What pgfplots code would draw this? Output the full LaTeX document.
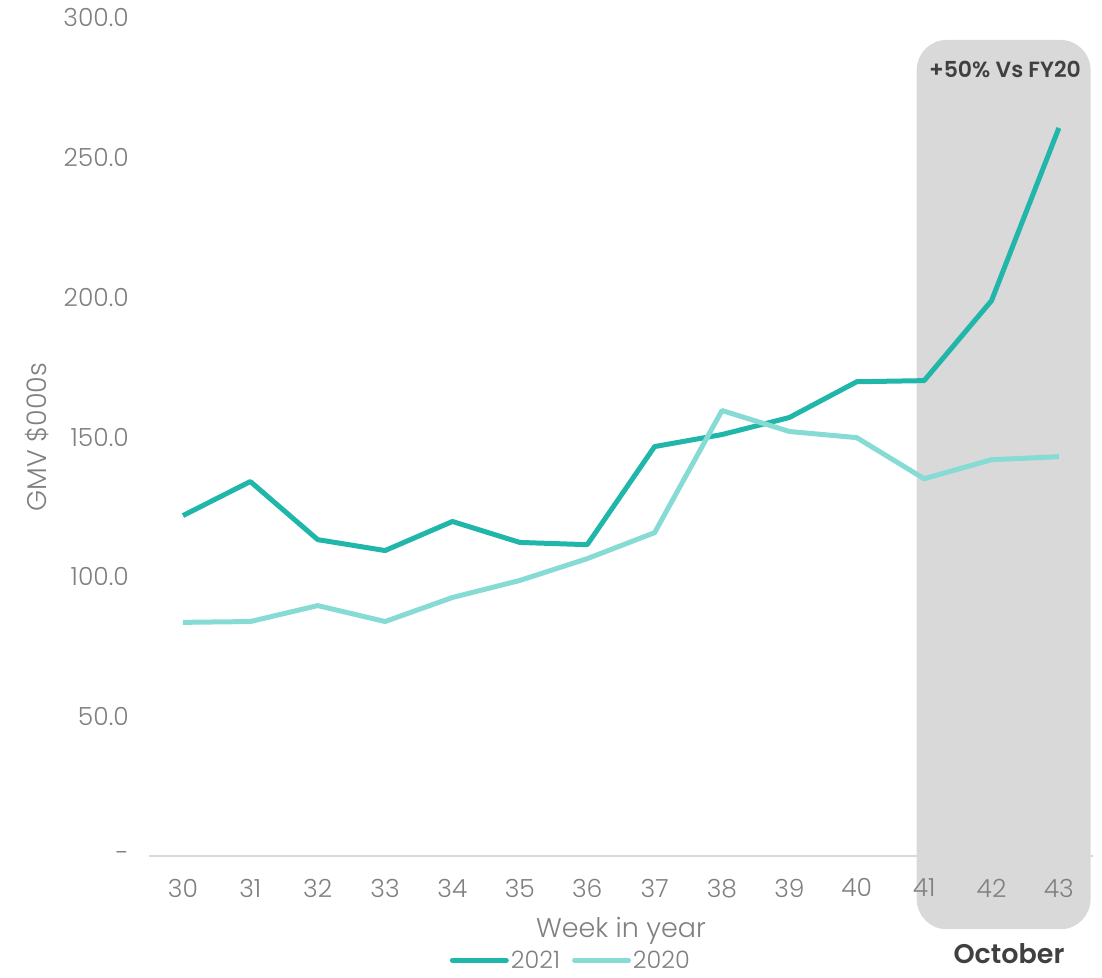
\documentclass[border=0pt]{standalone}
\usepackage{fontspec}
\setmainfont{Poppins Light}[BoldFont={Poppins SemiBold}]
\usepackage{pgfplots}
\pgfplotsset{compat=1.18}
\definecolor{c21}{HTML}{21B6AA}
\definecolor{c20}{HTML}{86DCD4}
\definecolor{tickgray}{HTML}{808080}
\definecolor{boxgray}{HTML}{D9D9D9}
\definecolor{darktxt}{HTML}{404040}
\begin{document}
\begin{tikzpicture}
\begin{axis}[
  set layers,
  scale only axis,
  width=944pt, height=839pt,
  xmin=29.5, xmax=43.5, ymin=0, ymax=300,
  clip=false,
  axis x line*=bottom,
  axis y line*=left,
  x axis line style={draw=boxgray, line width=2pt},
  y axis line style={draw=none},
  major tick length=0pt,
  xtick={30,...,43},
  ytick={0,50,100,150,200,250,300},
  yticklabels={-,50.0,100.0,150.0,200.0,250.0,300.0},
  /pgf/number format/assume math mode=true,
  tick label style={font=\fontsize{25}{29}\selectfont, text=tickgray},
  xticklabel style={yshift=-19pt},
  yticklabel style={xshift=-17pt},
  xlabel={Week in year},
  ylabel={GMV \$000s},
  label style={font=\fontsize{27}{32}\selectfont, text=tickgray},
  xlabel style={at={(0.5,-0.0895)}, anchor=center},
  ylabel style={at={(-0.119,0.5)}, anchor=center},
  legend style={at={(0.447,-0.124)}, anchor=center, draw=none, fill=none,
    font=\fontsize{24}{28}\selectfont, text=tickgray, legend columns=2,
    /tikz/every even column/.append style={column sep=10pt}},
  legend image code/.code={\draw[#1, line cap=round] (0pt,0pt) -- (54pt,0pt);},
]
\begin{pgfonlayer}{axis background}
\fill[boxgray, rounded corners=30pt] (axis cs:40.89,-26.1) rectangle (axis cs:43.47,292.1);
\end{pgfonlayer}
\node[font=\bfseries\fontsize{22}{26}\selectfont, text=darktxt] at (axis cs:42.2,281.7) {+50\% Vs FY20};
\node[font=\bfseries\fontsize{27}{32}\selectfont, text=darktxt] at (axis cs:42.26,-35.0) {October};
\addplot[c21, line width=5pt, line join=round] coordinates {
(30,121.9) (31,134.1) (32,113.3) (33,109.4) (34,119.8) (35,112.3) (36,111.5)
(37,146.6) (38,150.9) (39,157.0) (40,169.8) (41,170.2) (42,198.8) (43,260.6)};
\addlegendentry{2021}
\addplot[c20, line width=5pt, line join=round] coordinates {
(30,83.7) (31,84.0) (32,89.7) (33,84.0) (34,92.6) (35,98.7) (36,106.5)
(37,115.8) (38,159.5) (39,152.0) (40,149.8) (41,135.1) (42,141.9) (43,143.0)};
\addlegendentry{2020}
\coordinate (bl) at (axis cs:27.285,-43.3);
\coordinate (tr) at (axis cs:43.64,306.4);
\end{axis}
\pgfresetboundingbox
\path[use as bounding box] (bl) rectangle (tr);
\end{tikzpicture}
\end{document}
